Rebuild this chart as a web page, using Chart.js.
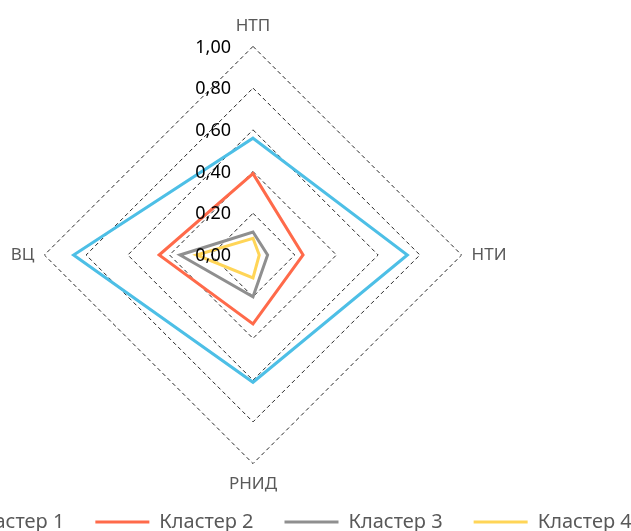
<!DOCTYPE html>
<html>
<head>
<meta charset="utf-8">
<script src="https://cdn.jsdelivr.net/npm/chart.js@4"></script>
<style>
  html, body { margin: 0; padding: 0; background: #fff; overflow: hidden; width: 631px; height: 531px; position: relative; }
  #wrap { position: absolute; left: -167px; top: 0; width: 840px; height: 556px; }
</style>
</head>
<body>
<div id="wrap"><canvas id="radarChart"></canvas></div>
<script>
// ==================== DATA ====================
const axisLabels = ['НТП', 'НТИ', 'РНИД', 'ВЦ'];
const seriesNames = ['Кластер 1', 'Кластер 2', 'Кластер 3', 'Кластер 4'];
const cluster1 = [0.56, 0.74, 0.61, 0.86];
const cluster2 = [0.39, 0.24, 0.33, 0.45];
const cluster3 = [0.11, 0.07, 0.20, 0.35];
const cluster4 = [0.08, 0.03, 0.11, 0.27];
const tickValues = [0, 0.2, 0.4, 0.6, 0.8, 1.0];

const seriesColors = ['#4dbfe6', '#ff6a4a', '#8f8f8f', '#ffd557'];
const FONT = '"Noto Sans", "DejaVu Sans", sans-serif';

// legend sits lower / further right than Chart.js would put it
const LEGEND_DX = 16;
const LEGEND_DY = -14;

const legendShift = {
    id: 'legendShift',
    afterLayout(chart) {
        const lg = chart.legend;
        lg.left += LEGEND_DX; lg.right += LEGEND_DX;
        lg.top += LEGEND_DY; lg.bottom += LEGEND_DY;
    }
};

// tick labels are drawn left of the vertical axis, like the original
const tickLabels = {
    id: 'tickLabels',
    afterDatasetsDraw(chart) {
        const r = chart.scales.r;
        const ctx = chart.ctx;
        ctx.save();
        ctx.font = '18px ' + FONT;
        ctx.fillStyle = '#000';
        ctx.textAlign = 'right';
        ctx.textBaseline = 'middle';
        r.ticks.forEach(t => {
            const y = r.yCenter - r.getDistanceFromCenterForValue(t.value);
            ctx.fillText(t.label, r.xCenter - 22, y + 1);
        });
        ctx.restore();
    }
};

const allSeries = [cluster1, cluster2, cluster3, cluster4];

new Chart(document.getElementById('radarChart'), {
    type: 'radar',
    data: {
        labels: axisLabels,
        datasets: allSeries.map((values, i) => ({
            label: seriesNames[i],
            data: values,
            borderColor: seriesColors[i],
            backgroundColor: seriesColors[i],
            borderWidth: 3,
            fill: false,
            pointRadius: 0,
            pointHoverRadius: 0,
            tension: 0
        }))
    },
    options: {
        responsive: true,
        maintainAspectRatio: false,
        animation: false,
        layout: { padding: { top: 16 } },
        scales: {
            r: {
                min: 0,
                max: 1,
                afterBuildTicks(scale) {
                    scale.ticks = tickValues.map(v => ({ value: v }));
                },
                ticks: {
                    display: false,
                    callback: v => v.toFixed(2).replace('.', ',')
                },
                angleLines: { display: false },
                grid: {
                    color: '#262626',
                    lineWidth: 1
                },
                border: { dash: [4, 3] },
                pointLabels: {
                    color: '#595959',
                    padding: 10,
                    font: { family: FONT, size: 17 }
                }
            }
        },
        plugins: {
            legend: {
                position: 'bottom',
                align: 'center',
                labels: {
                    boxWidth: 54,
                    boxHeight: 0,
                    padding: 31,
                    color: '#595959',
                    font: { family: FONT, size: 20 }
                }
            },
            tooltip: { enabled: false }
        }
    },
    plugins: [legendShift, tickLabels]
});
</script>
</body>
</html>
